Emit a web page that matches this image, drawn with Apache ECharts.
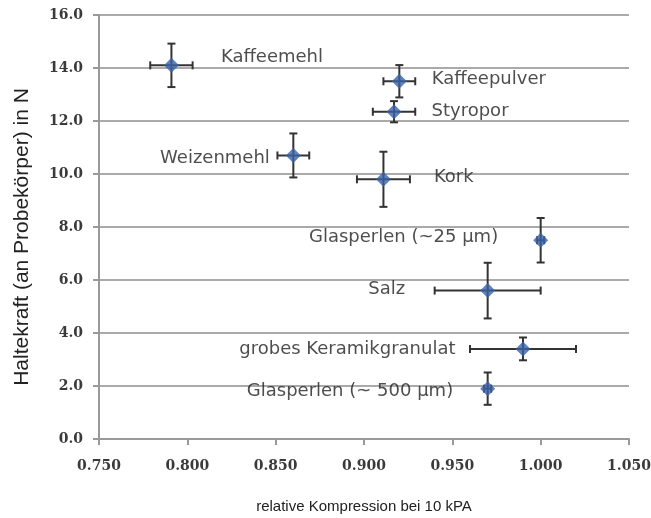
<!DOCTYPE html>
<html><head><meta charset="utf-8">
<script src="https://cdn.jsdelivr.net/npm/echarts@6/dist/echarts.min.js"></script>
<style>html,body{margin:0;padding:0;background:#fff}#c{width:651px;height:518px}</style>
</head><body><div id="c"></div>
<script>
const names = ["Kaffeemehl","Kaffeepulver","Styropor","Weizenmehl","Kork","Glasperlen (~25 µm)","Salz","grobes Keramikgranulat","Glasperlen (~ 500 µm)"];
const xValues = [0.791, 0.920, 0.917, 0.860, 0.911, 1.000, 0.970, 0.990, 0.970];
const yValues = [14.1, 13.5, 12.35, 10.7, 9.8, 7.5, 5.6, 3.4, 1.9];
const xErrors = [0.012, 0.009, 0.012, 0.009, 0.015, 0.002, 0.030, 0.030, 0.002];
const yErrors = [0.82, 0.61, 0.40, 0.83, 1.04, 0.84, 1.05, 0.43, 0.61];
const xTicks = [0.75, 0.8, 0.85, 0.9, 0.95, 1.0, 1.05];
const yTicks = [0, 2, 4, 6, 8, 10, 12, 14, 16];

// label placement (style only)
const labelPos = ["right","right","right","left","right","left","left","left","left"];
const labelDist = [42, 25, 30, 16, 43, 35, 75, 60, 27];
const labelDy = [-8, -2, 0, 3, -2, -3, -1, 0, 3];

const chart = echarts.init(document.getElementById('c'));
const pts = names.map((n,i)=>({
  value:[xValues[i], yValues[i]],
  name:n,
  label:{show:true, position:labelPos[i], distance:labelDist[i], offset:[0,labelDy[i]], formatter:n}
}));
const tickFont = {fontFamily:'DejaVu Serif', fontWeight:'bold', fontSize:14, color:'#3a3a3a'};
chart.setOption({
  animation:false,
  grid:{left:99, right:22, top:15, bottom:79, outerBoundsMode:'none', containLabel:false},
  xAxis:{type:'value', min:xTicks[0], max:xTicks[xTicks.length-1], interval:0.05,
    axisLine:{show:true, onZero:false, lineStyle:{color:'#999', width:2}},
    axisTick:{show:true, length:6, lineStyle:{color:'#999', width:2}},
    axisLabel:Object.assign({margin:20, formatter:v=>v.toFixed(3)}, tickFont),
    splitLine:{show:false},
    name:'relative Kompression bei 10 kPA', nameLocation:'middle', nameGap:60,
    nameTextStyle:{fontFamily:'Liberation Sans', fontSize:15, color:'#222'}
  },
  yAxis:{type:'value', min:yTicks[0], max:yTicks[yTicks.length-1], interval:2,
    axisLine:{show:true, lineStyle:{color:'#999', width:2}},
    axisTick:{show:true, length:6, lineStyle:{color:'#999', width:2}},
    axisLabel:Object.assign({margin:16, formatter:v=>v.toFixed(1)}, tickFont),
    splitLine:{show:true, lineStyle:{color:'#aaa', width:2}},
    name:'Haltekraft (an Probekörper) in N', nameLocation:'middle', nameGap:66,
    nameTextStyle:{fontFamily:'Liberation Sans', fontSize:21, color:'#222', padding:[0,20,0,0]}
  },
  series:[
    {type:'custom', z:2,
     renderItem:function(params, api){
       const x=api.value(0), y=api.value(1), ex=api.value(2), ey=api.value(3);
       const c=api.coord([x,y]);
       const l=api.coord([x-ex,y]), r=api.coord([x+ex,y]);
       const t=api.coord([x,y+ey]), b=api.coord([x,y-ey]);
       const cap=4;
       const st={stroke:'#333', lineWidth:2};
       return {type:'group', children:[
         {type:'line', shape:{x1:l[0],y1:c[1],x2:r[0],y2:c[1]}, style:st},
         {type:'line', shape:{x1:l[0],y1:c[1]-cap,x2:l[0],y2:c[1]+cap}, style:st},
         {type:'line', shape:{x1:r[0],y1:c[1]-cap,x2:r[0],y2:c[1]+cap}, style:st},
         {type:'line', shape:{x1:c[0],y1:t[1],x2:c[0],y2:b[1]}, style:st},
         {type:'line', shape:{x1:c[0]-cap,y1:t[1],x2:c[0]+cap,y2:t[1]}, style:st},
         {type:'line', shape:{x1:c[0]-cap,y1:b[1],x2:c[0]+cap,y2:b[1]}, style:st}
       ]};
     },
     data:names.map((n,i)=>[xValues[i], yValues[i], xErrors[i], yErrors[i]])
    },
    {type:'scatter', z:3, symbol:'diamond', symbolSize:15,
     itemStyle:{color:'#3A62A8'},
     label:{fontFamily:'DejaVu Sans', fontSize:18, color:'#222'},
     data:pts}
  ]
});
</script></body></html>
